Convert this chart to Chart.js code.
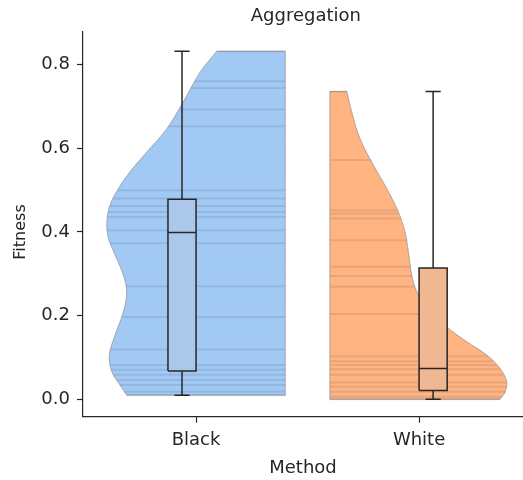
<!DOCTYPE html>
<html>
<head>
<meta charset="utf-8">
<script src="https://cdn.jsdelivr.net/npm/chart.js@4.4.1/dist/chart.umd.min.js"></script>
<style>
  html, body { margin: 0; padding: 0; background: #fff; }
  canvas { display: block; }
</style>
</head>
<body>
<canvas id="chart" width="523" height="480"></canvas>
<script>
const methods = ['Black', 'White'];
const yTicks = [0, 0.2, 0.4, 0.6, 0.8];

// fitness of each run, drawn as a line inside the violin
const blackValues = [0.832, 0.760, 0.744, 0.693, 0.653, 0.500, 0.480, 0.462, 0.448, 0.436,
  0.404, 0.373, 0.270, 0.197, 0.119, 0.082, 0.071, 0.059, 0.046, 0.034, 0.018, 0.010];
const whiteValues = [0.735, 0.572, 0.452, 0.444, 0.432, 0.380, 0.317, 0.295, 0.269, 0.204,
  0.103, 0.091, 0.082, 0.072, 0.059, 0.040, 0.030, 0.018, 0.006, 0.000];

// box stats: min, q1, median, q3, max
const blackBox = [0.010, 0.068, 0.399, 0.478, 0.832];
const whiteBox = [0.000, 0.021, 0.074, 0.314, 0.736];

// violin outline: fitness level and width (category units, from the flat side)
const blackDensityY = [0.832, 0.782, 0.711, 0.647, 0.591, 0.544, 0.504, 0.464, 0.424, 0.385,
  0.345, 0.297, 0.257, 0.209, 0.154, 0.106, 0.066, 0.034, 0.010];
const blackDensityW = [0.307, 0.382, 0.457, 0.531, 0.621, 0.696, 0.748, 0.786, 0.800, 0.793,
  0.763, 0.726, 0.711, 0.726, 0.763, 0.789, 0.778, 0.741, 0.711];
const whiteDensityY = [0.736, 0.687, 0.623, 0.560, 0.504, 0.448, 0.400, 0.353, 0.297, 0.257,
  0.217, 0.173, 0.138, 0.106, 0.074, 0.042, 0.018, 0.000];
const whiteDensityW = [0.076, 0.098, 0.135, 0.195, 0.255, 0.307, 0.337, 0.352, 0.367, 0.390,
  0.440, 0.524, 0.613, 0.703, 0.763, 0.793, 0.786, 0.763];

const FONT = 'DejaVu Sans';
const INK = '#262626';

function widthAt(v, ys, ws) {
  for (let i = 0; i < ys.length - 1; i++) {
    if (v <= ys[i] && v >= ys[i + 1]) {
      const t = (ys[i] - v) / (ys[i] - ys[i + 1]);
      return ws[i] + t * (ws[i + 1] - ws[i]);
    }
  }
  return v > ys[0] ? ws[0] : ws[ws.length - 1];
}

// side -1: violin grows to the left of the flat edge, +1 to the right
function buildGroup(pos, side, values, box, ys, ws, fill, boxFill) {
  const flat = pos - side * 0.4;
  const sets = [];

  const outline = [];
  const top = ys[0], bottom = ys[ys.length - 1];
  outline.push({x: flat, y: top}, {x: flat, y: top});
  ys.forEach((y, i) => {
    const pt = {x: flat + side * ws[i], y: y};
    outline.push(pt);
    if (i === 0 || i === ys.length - 1) outline.push(pt);
  });
  outline.push({x: flat, y: bottom}, {x: flat, y: bottom}, {x: flat, y: top});
  sets.push({
    data: outline, showLine: true, fill: 'shape', tension: 0.35,
    backgroundColor: fill, borderColor: 'rgba(130,130,130,0.6)', borderWidth: 1,
    pointRadius: 0, order: 4
  });

  values.forEach(v => {
    sets.push({
      data: [{x: flat, y: v}, {x: flat + side * widthAt(v, ys, ws), y: v}],
      showLine: true, fill: false, borderColor: 'rgba(60,60,80,0.12)', borderWidth: 2,
      pointRadius: 0, order: 3
    });
  });

  const c = pos + side * 0.063, hw = 0.063, cw = 0.034;
  const [mn, q1, med, q3, mx] = box;
  const line = (data, extra) => Object.assign({
    data: data, showLine: true, fill: false, borderColor: INK, borderWidth: 1.5,
    pointRadius: 0, order: 1
  }, extra || {});
  sets.push(line([{x: c - hw, y: q1}, {x: c + hw, y: q1}, {x: c + hw, y: q3},
    {x: c - hw, y: q3}, {x: c - hw, y: q1}], {fill: 'shape', backgroundColor: boxFill, order: 2}));
  sets.push(line([{x: c - hw, y: med}, {x: c + hw, y: med}]));
  sets.push(line([{x: c, y: q3}, {x: c, y: mx}]));
  sets.push(line([{x: c - cw, y: mx}, {x: c + cw, y: mx}]));
  sets.push(line([{x: c, y: q1}, {x: c, y: mn}]));
  sets.push(line([{x: c - cw, y: mn}, {x: c + cw, y: mn}]));
  return sets;
}

const datasets = [
  ...buildGroup(0, -1, blackValues, blackBox, blackDensityY, blackDensityW, '#a1c9f4', '#abc8ea'),
  ...buildGroup(1, 1, whiteValues, whiteBox, whiteDensityY, whiteDensityW, '#ffb482', '#efb792')
];

new Chart(document.getElementById('chart'), {
  type: 'scatter',
  data: { datasets: datasets },
  options: {
    responsive: false,
    animation: false,
    devicePixelRatio: 1,
    layout: { padding: 0 },
    plugins: {
      legend: { display: false },
      tooltip: { enabled: false },
      title: {
        display: true, text: ' Aggregation', fullSize: false, color: INK,
        font: { family: FONT, size: 18, weight: 'normal' },
        padding: { top: 6, bottom: 4.4 }
      }
    },
    scales: {
      x: {
        type: 'linear', min: -0.507, max: 1.466,
        afterBuildTicks: s => { s.ticks = methods.map((m, i) => ({value: i})); },
        afterFit: s => { s.height = 63.3; },
        ticks: {
          color: INK, padding: 7, maxRotation: 0,
          font: { family: FONT, size: 18 },
          callback: v => methods[v]
        },
        grid: { drawOnChartArea: false, drawTicks: true, tickLength: 6, color: INK, tickWidth: 1.2 },
        border: { display: true, color: INK, width: 1.2 },
        title: {
          display: true, text: 'Method', color: INK,
          font: { family: FONT, size: 18 }, padding: { top: 0, bottom: 1.2 }
        }
      },
      y: {
        type: 'linear', min: -0.0415, max: 0.878,
        afterBuildTicks: s => { s.ticks = yTicks.map(v => ({value: v})); },
        afterFit: s => { s.width = 83; },
        ticks: {
          color: INK, padding: 7,
          font: { family: FONT, size: 18 },
          callback: v => v.toFixed(1)
        },
        grid: { drawOnChartArea: false, drawTicks: true, tickLength: 6, color: INK, tickWidth: 1.2 },
        border: { display: true, color: INK, width: 1.2 },
        title: {
          display: true, text: 'Fitness   ', color: INK,
          font: { family: FONT, size: 16 }, padding: { top: 11, bottom: 0 }
        }
      }
    }
  }
});
</script>
</body>
</html>
